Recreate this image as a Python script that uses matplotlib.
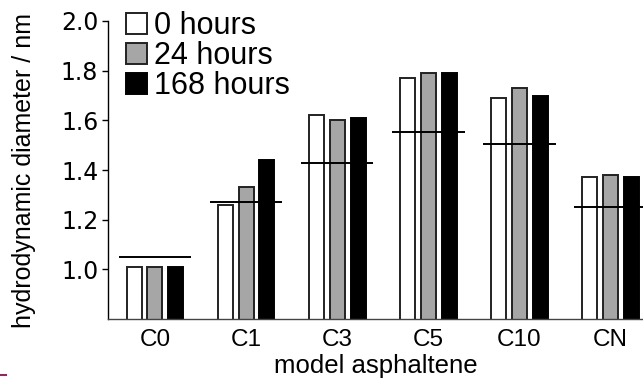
import numpy as np
import matplotlib
matplotlib.use("Agg")
import matplotlib.pyplot as plt
from matplotlib.lines import Line2D

# --- DATA ---
categories = ["C0", "C1", "C3", "C5", "C10", "CN"]
series_labels = ["0 hours", "24 hours", "168 hours"]
d_0h = [1.01, 1.26, 1.62, 1.77, 1.69, 1.37]
d_24h = [1.01, 1.33, 1.60, 1.79, 1.73, 1.38]
d_168h = [1.01, 1.44, 1.61, 1.79, 1.70, 1.37]
reference = [1.05, 1.27, 1.43, 1.555, 1.505, 1.25]
y_ticks = [1.0, 1.2, 1.4, 1.6, 1.8, 2.0]

SANS = "Liberation Sans"

fig = plt.figure(figsize=(6.43, 3.81), dpi=100)
ax = fig.add_axes([108 / 643, 62 / 381, 1 - 108 / 643, 298 / 381])

x = np.arange(len(categories))
width = 0.165
step = 0.23
styles = [("white", "#222222"), ("#a6a6a6", "#222222"), ("black", "black")]
for i, (vals, lab) in enumerate(zip([d_0h, d_24h, d_168h], series_labels)):
    face, edge = styles[i]
    ax.bar(x + (i - 1) * step, vals, width=width, bottom=0,
           color=face, edgecolor=edge, linewidth=1.4, label=lab, zorder=2)

ax.hlines(reference, x - 0.4, x + 0.4, colors="black", linewidth=1.4, zorder=3)

ax.set_xlim(-0.516, 5.36)
ax.set_ylim(0.8, 2.0)
ax.set_yticks(y_ticks)
ax.set_yticklabels([f"{t:.1f}" for t in y_ticks], family="DejaVu Sans", fontsize=17)
ax.set_xticks(x)
ax.set_xticklabels(categories, family=SANS, fontsize=17.5)
ax.tick_params(axis="x", length=0, pad=7)
ax.tick_params(axis="y", direction="out", length=4, width=1, pad=3)

for s in ["top", "right"]:
    ax.spines[s].set_visible(False)
ax.spines["left"].set_linewidth(1.0)
ax.spines["bottom"].set_linewidth(1.0)
ax.spines["bottom"].set_color("#444444")

ax.set_xlabel("model asphaltene", family=SANS, fontsize=18.5, labelpad=2)
ax.set_ylabel("hydrodynamic diameter / nm", family=SANS, fontsize=18, labelpad=18)

leg = ax.legend(loc="upper left", bbox_to_anchor=(126 / 643, 1 - 11 / 381),
                bbox_transform=fig.transFigure, frameon=False,
                prop={"family": SANS, "size": 22},
                handlelength=0.68, handleheight=0.68, handletextpad=0.22,
                labelspacing=0.0, borderpad=0, borderaxespad=0)

# small stray mark in the lower-left corner of the source image
fig.add_artist(Line2D([0, 6 / 643], [6 / 381, 6 / 381], color="#8b2a5f",
                      linewidth=1.5, transform=fig.transFigure))

fig.savefig("out.png", dpi=100)
